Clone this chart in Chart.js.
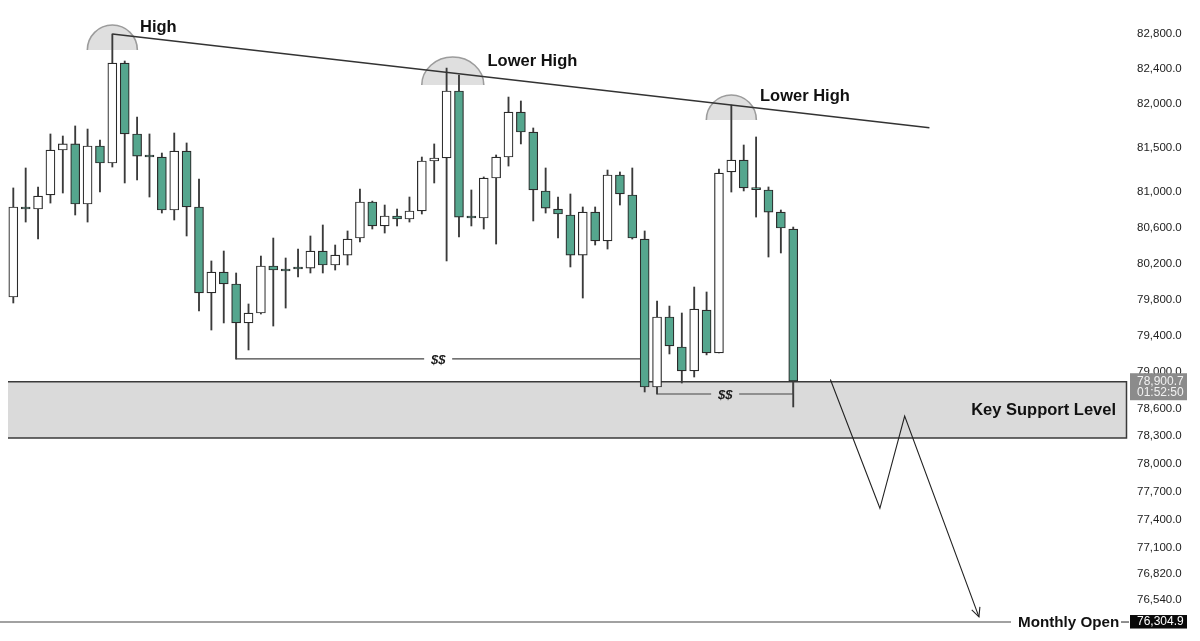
<!DOCTYPE html>
<html>
<head>
<meta charset="utf-8">
<script src="https://cdn.jsdelivr.net/npm/chart.js@4.4.0/dist/chart.umd.min.js"></script>
<style>
html,body{margin:0;padding:0;background:#fff;}
#wrap{width:1200px;height:641px;position:relative;}
</style>
</head>
<body>
<div id="wrap"><canvas id="c" width="1200" height="641"></canvas></div>
<script>
// ---------- DATA ----------
const opens  = [79829,80834,80811,80969,81476,81545,80867,81522,81329,82467,81658,81408,81397,80800,81465,80834,79874,80107,79974,79542,79652,80174,80129,80151,80151,80341,80185,80296,80486,80890,80621,80733,80699,80789,81352,81386,82147,80721,80710,81160,81397,81907,81680,81014,80811,80744,80296,80777,80453,81194,80969,80475,78837,79608,79277,79013,79685,79211,81228,81363,81036,81025,80777,80587];
const highs  = [81048,81273,81059,81658,81635,81749,81714,81590,82800,82490,81850,81658,81442,81669,81556,81149,80230,80341,80096,79752,80285,80486,80263,80363,80509,80632,80408,80565,81036,80900,80856,80811,80946,81397,81545,82409,82330,81025,81172,81420,82078,82033,81726,81273,80946,80980,80834,80834,81250,81228,81273,80565,79785,79729,79652,79940,79885,81261,81987,81533,81624,81059,80800,80609];
const lows   = [79763,80665,80475,80878,80991,80744,80665,81002,81284,81104,81138,80946,80766,80688,80509,79674,79464,79542,79145,79244,79641,79508,79707,80051,80096,80096,80129,80185,80442,80587,80542,80621,80665,80755,81104,80230,80498,80621,80587,80419,81295,81545,80677,80766,80486,80163,79818,80408,80363,80856,80475,78783,78761,79200,78881,78947,79190,79211,81002,81014,80721,80274,80319,78619];
const closes = [80834,80811,80957,81476,81545,80867,81522,81329,82467,81658,81408,81397,80800,81465,80834,79874,80107,79974,79542,79652,80174,80129,80118,80140,80341,80185,80296,80475,80890,80621,80733,80699,80789,81352,81386,82147,80721,80710,81160,81397,81907,81680,81025,80822,80755,80296,80777,80453,81194,80980,80486,78837,79608,79288,79013,79696,79211,81216,81363,81048,81030,80777,80598,78900.7];
const candleIndex = opens.map((_, i) => i);

const tickValues = [82800,82400,82000,81500,81000,80600,80200,79800,79400,79000,78600,78300,78000,77700,77400,77100,76820,76540];

const currentPrice = 78900.7;
const currentTimer = "01:52:50";
const monthlyOpen = 76304.9;
const supportZone = [78281, 78895];           // bottom, top
const trendAnchors = [8, 58];                  // candles whose highs define the trend line
const trendEndIndex = 74;
const highMarks = [[8, 82616], [35.5, 82215], [58, 81817]]; // arc centre index, arc base price
const liquidity = [[18, 51, 18], [52, 63, 52]]; // from candle, to candle, candle whose low sets the level
const projection = [[66, 78920], [70, 77520], [72, 78520], [78, 76360]];

// ---------- STYLE / LAYOUT ----------
const TEAL = '#55a68e';
const DARK = '#2b2b2b';
const FONT = '"Liberation Sans", Arial, Helvetica, sans-serif';
const X_MIN = -1.0743, X_MAX = 89.798;
const Y_MIN = 76104, Y_MAX = 83192.1;
const arcSizes = [[25, 25], [31, 28], [25, 25]];
const labelSpots = [["High", 140, 32], ["Lower High", 487.5, 66], ["Lower High", 760, 101]];

const fmt = v => v.toLocaleString('en-US', {minimumFractionDigits: 1, maximumFractionDigits: 1});

const annot = {
  id: 'annot',
  beforeDatasetsDraw(chart) {
    const {ctx, scales: {x, y}, chartArea} = chart;
    ctx.save();
    // support zone
    const top = y.getPixelForValue(supportZone[1]);
    const bot = y.getPixelForValue(supportZone[0]);
    const left = 8, right = chartArea.right + 1.5;
    ctx.fillStyle = '#dadada';
    ctx.fillRect(left, top, right - left, bot - top);
    ctx.strokeStyle = '#3a3a3a';
    ctx.lineWidth = 1.5;
    ctx.beginPath();
    ctx.moveTo(left, top); ctx.lineTo(right, top); ctx.lineTo(right, bot); ctx.lineTo(left, bot);
    ctx.stroke();
    // arcs over highs
    highMarks.forEach((m, k) => {
      const cx = x.getPixelForValue(m[0]), by = y.getPixelForValue(m[1]);
      const [rx, ry] = arcSizes[k];
      ctx.beginPath();
      ctx.ellipse(cx, by, rx, ry, 0, Math.PI, 2 * Math.PI);
      ctx.closePath();
      ctx.fillStyle = '#dfdfdf';
      ctx.fill();
      ctx.beginPath();
      ctx.ellipse(cx, by, rx, ry, 0, Math.PI, 2 * Math.PI);
      ctx.strokeStyle = '#9c9c9c';
      ctx.lineWidth = 1.6;
      ctx.stroke();
    });
    // monthly open line
    const my = y.getPixelForValue(monthlyOpen);
    ctx.strokeStyle = '#444';
    ctx.lineWidth = 1.2;
    ctx.beginPath(); ctx.moveTo(0, my); ctx.lineTo(1011, my); ctx.stroke();
    ctx.beginPath(); ctx.moveTo(1121, my); ctx.lineTo(1129, my); ctx.stroke();
    ctx.restore();
  },
  afterDatasetsDraw(chart) {
    const {ctx, scales: {x, y}} = chart;
    ctx.save();
    // trend line
    const x1 = x.getPixelForValue(trendAnchors[0]), y1 = y.getPixelForValue(highs[trendAnchors[0]]);
    const x2 = x.getPixelForValue(trendAnchors[1]), y2 = y.getPixelForValue(highs[trendAnchors[1]]);
    const xe = x.getPixelForValue(trendEndIndex);
    const ye = y1 + (y2 - y1) * (xe - x1) / (x2 - x1);
    ctx.strokeStyle = '#333';
    ctx.lineWidth = 1.3;
    ctx.beginPath(); ctx.moveTo(x1, y1); ctx.lineTo(xe, ye); ctx.stroke();

    // liquidity lines with $$
    ctx.font = 'italic bold 13px ' + FONT;
    ctx.textAlign = 'center';
    ctx.textBaseline = 'middle';
    liquidity.forEach(([a, b, src], k) => {
      const ly = y.getPixelForValue(lows[src]);
      const xa = x.getPixelForValue(a);
      const xb = k === 0 ? x.getPixelForValue(b) - 4.5 : x.getPixelForValue(b);
      const bodyBottom = y.getPixelForValue(Math.min(opens[a], closes[a]));
      const mid = (xa + xb) / 2;
      const half = 14;
      ctx.strokeStyle = '#444';
      ctx.lineWidth = 1.2;
      ctx.beginPath();
      ctx.moveTo(xa, bodyBottom); ctx.lineTo(xa, ly); ctx.lineTo(mid - half, ly);
      ctx.moveTo(mid + half, ly); ctx.lineTo(xb, ly);
      if (k === 1) { ctx.lineTo(xb, y.getPixelForValue(Math.min(opens[b], closes[b]))); }
      ctx.stroke();
      ctx.fillStyle = '#1a1a1a';
      ctx.fillText('$$', mid, ly + 1);
    });

    // projection path
    ctx.strokeStyle = '#222';
    ctx.lineWidth = 1.1;
    ctx.beginPath();
    projection.forEach((p, i) => {
      const px = x.getPixelForValue(p[0]), py = y.getPixelForValue(p[1]);
      if (i === 0) ctx.moveTo(px, py); else ctx.lineTo(px, py);
    });
    ctx.stroke();
    const pa = projection[projection.length - 2], pb = projection[projection.length - 1];
    const ax = x.getPixelForValue(pa[0]), ay = y.getPixelForValue(pa[1]);
    const bx = x.getPixelForValue(pb[0]), by = y.getPixelForValue(pb[1]);
    const ang = Math.atan2(by - ay, bx - ax);
    ctx.beginPath();
    ctx.moveTo(bx - 10 * Math.cos(ang - 0.45), by - 10 * Math.sin(ang - 0.45));
    ctx.lineTo(bx, by);
    ctx.lineTo(bx - 10 * Math.cos(ang + 0.45), by - 10 * Math.sin(ang + 0.45));
    ctx.stroke();

    // text labels
    ctx.fillStyle = '#111';
    ctx.textBaseline = 'alphabetic';
    ctx.textAlign = 'left';
    ctx.font = 'bold 16.5px ' + FONT;
    labelSpots.forEach(([t, lx, ly]) => ctx.fillText(t, lx, ly));
    ctx.textAlign = 'right';
    ctx.fillText('Key Support Level', 1116, 415);
    ctx.textAlign = 'left';
    ctx.font = 'bold 15.2px ' + FONT;
    ctx.fillText('Monthly Open', 1018, 627);
    ctx.restore();
  },
  afterDraw(chart) {
    const {ctx, scales: {y}} = chart;
    ctx.save();
    // current price tag
    const py = y.getPixelForValue(currentPrice);
    ctx.fillStyle = '#8b8b8b';
    ctx.fillRect(1130, py - 8, 57, 27);
    ctx.fillStyle = '#f2f2f2';
    ctx.font = '12px ' + FONT;
    ctx.textAlign = 'left';
    ctx.textBaseline = 'middle';
    ctx.fillText(fmt(currentPrice), 1137, py);
    ctx.fillText(currentTimer, 1137, py + 11.5);
    // monthly open tag
    const my = y.getPixelForValue(monthlyOpen);
    ctx.fillStyle = '#0a0a0a';
    ctx.fillRect(1130, my - 7, 57, 13.5);
    ctx.fillStyle = '#ffffff';
    ctx.fillText(fmt(monthlyOpen), 1137, my);
    ctx.restore();
  }
};

new Chart(document.getElementById('c'), {
  type: 'bar',
  data: {
    datasets: [
      {
        label: 'body',
        data: candleIndex.map(i => ({x: i, y: [opens[i], closes[i]]})),
        backgroundColor: candleIndex.map(i => closes[i] < opens[i] ? TEAL : '#ffffff'),
        borderColor: DARK,
        borderWidth: 1.2,
        borderSkipped: false,
        barThickness: 9,
        minBarLength: 2,
        grouped: false,
        order: 0
      },
      {
        label: 'wick',
        data: candleIndex.map(i => ({x: i, y: [lows[i], highs[i]]})),
        backgroundColor: '#3a3a3a',
        borderWidth: 0,
        barThickness: 1.2,
        grouped: false,
        order: 1
      }
    ]
  },
  options: {
    responsive: false,
    animation: false,
    devicePixelRatio: 1,
    layout: {padding: 0},
    plugins: {legend: {display: false}, tooltip: {enabled: false}},
    scales: {
      x: {type: 'linear', min: X_MIN, max: X_MAX, offset: false, display: false},
      y: {
        type: 'logarithmic',
        position: 'right',
        min: Y_MIN,
        max: Y_MAX,
        grid: {display: false, drawTicks: false},
        border: {display: false},
        ticks: {
          padding: 12,
          autoSkip: false,
          color: '#222',
          font: {size: 11.5, family: FONT},
          callback: v => fmt(v)
        },
        afterBuildTicks: s => { s.ticks = tickValues.map(v => ({value: v})); },
        afterFit: s => { s.width = 75; s.paddingTop = 0; s.paddingBottom = 0; }
      }
    }
  },
  plugins: [annot]
});
</script>
</body>
</html>
